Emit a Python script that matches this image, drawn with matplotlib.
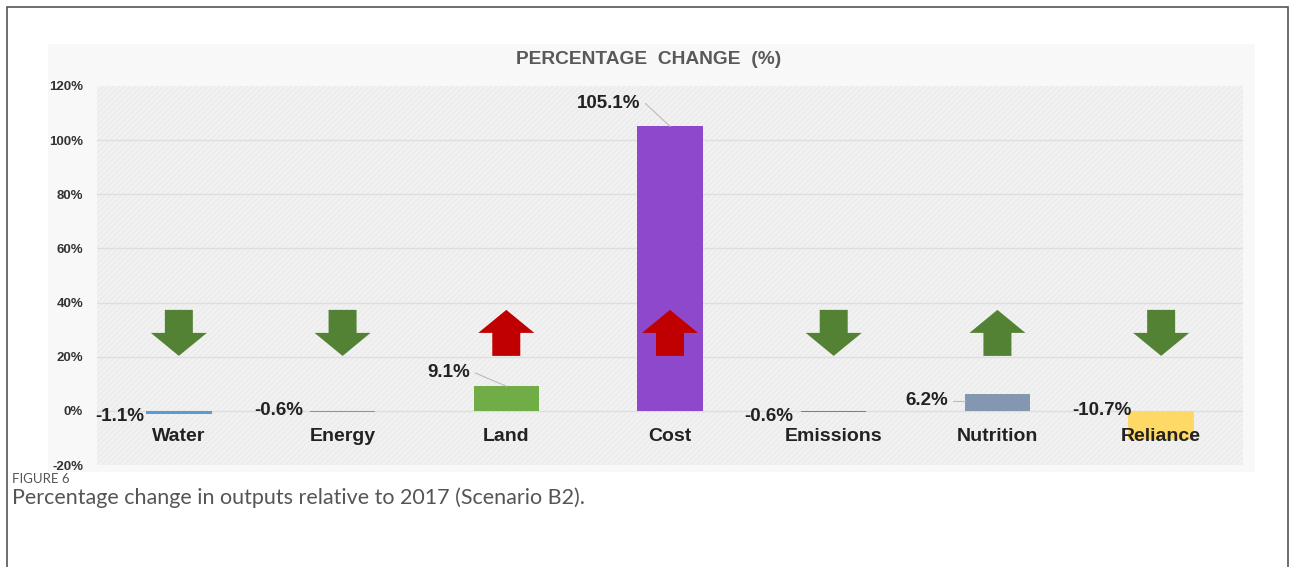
import matplotlib
matplotlib.use("Agg")
import matplotlib.pyplot as plt
from matplotlib.patches import Rectangle, FancyArrow
import numpy as np

categories = ["Water", "Energy", "Land", "Cost", "Emissions", "Nutrition", "Reliance"]
values = [-1.1, -0.6, 9.1, 105.1, -0.6, 6.2, -10.7]
value_labels = ["-1.1%", "-0.6%", "9.1%", "105.1%", "-0.6%", "6.2%", "-10.7%"]
bar_colors = ["#5B9BD5", "#C8825A", "#70AD47", "#8E48CC", "#7F7F7F", "#8497B0", "#FFD966"]
arrow_dirs = ["down", "down", "up", "up", "down", "up", "down"]
arrow_colors = ["#548235", "#548235", "#C00000", "#C00000", "#548235", "#548235", "#548235"]
yticks = [-20, 0, 20, 40, 60, 80, 100, 120]
ytick_labels = ["-20%", "0%", "20%", "40%", "60%", "80%", "100%", "120%"]

W, H = 1293, 567
fig = plt.figure(figsize=(W / 100, H / 100), dpi=100)
fig.patch.set_facecolor("white")
plt.rcParams["hatch.linewidth"] = 0.4
plt.rcParams["hatch.color"] = "#e4e4e4"

# outer border
fig.add_artist(Rectangle((7 / W, -0.05), (1288 - 7) / W, 1 - 7 / H + 0.05,
                         transform=fig.transFigure, fill=False, edgecolor="#555555",
                         lw=1.2, zorder=-2))
# chart area
fig.add_artist(Rectangle((48 / W, 1 - 472 / H), (1255 - 48) / W, (472 - 44) / H,
                         transform=fig.transFigure, facecolor="#f8f8f8",
                         edgecolor="none", zorder=-2))

ax = fig.add_axes([97 / W, 1 - 465 / H, (1243 - 97) / W, (465 - 86) / H])
ax.set_zorder(1)
ax.set_facecolor("#f1f1f1")
ax.add_patch(Rectangle((0, 0), 1, 1, transform=ax.transAxes, facecolor="none",
                       edgecolor="#e4e4e4", hatch="//////", lw=0, zorder=0))
ax.set_xlim(-0.5, len(categories) - 0.5)
ax.set_ylim(-20, 120)
for s in ax.spines.values():
    s.set_visible(False)
ax.set_yticks(yticks)
ax.set_yticklabels(ytick_labels, fontsize=9.5, fontweight="bold", color="#333333",
                   family="Liberation Sans")
ax.tick_params(axis="y", length=0, pad=10)
ax.set_xticks([])
for t in yticks[1:-1]:
    ax.axhline(t, color="#dedede", lw=1, zorder=1)

x = np.arange(len(categories))
ax.bar(x, values, width=0.4, color=bar_colors, zorder=3)

# arrows
for i, (d, c) in enumerate(zip(arrow_dirs, arrow_colors)):
    if d == "down":
        y0, dy = 37.3, -17.0
    else:
        y0, dy = 20.3, 17.0
    ax.add_patch(FancyArrow(i, y0, 0, dy, width=0.171, head_width=0.342,
                            head_length=8.5, length_includes_head=True,
                            color=c, zorder=4, lw=0))

# value labels (offsets in category units / %)
label_pos = [(-0.21, -2.2), (-0.24, 0.3), (-0.22, 14.0),
             (-0.18, 113.5), (-0.25, -2.0), (-0.3, 3.8), (-0.18, 0.0)]
leaders = [False, False, True, True, False, True, False]
for i, (v, lab) in enumerate(zip(values, value_labels)):
    dx, ly = label_pos[i]
    ax.text(i + dx, ly, lab, ha="right", va="center", fontsize=13.5, fontweight="bold",
            color="#222222", family="Liberation Sans", zorder=6)
    if leaders[i]:
        if i == 5:
            ax.plot([i + dx + 0.03, i - 0.2], [ly, ly], color="#bbbbbb", lw=0.8, zorder=5)
        else:
            ax.plot([i + dx + 0.03, i], [ly, v], color="#bbbbbb", lw=0.8, zorder=5)

for i, c in enumerate(categories):
    ax.text(i, -9.6, c, ha="center", va="center", fontsize=14, fontweight="bold",
            color="#222222", family="Liberation Sans", zorder=6)

fig.text(649 / W, 1 - 60 / H, "PERCENTAGE  CHANGE  (%)", ha="center", va="center",
         fontsize=13.8, fontweight="bold", color="#595959", family="Liberation Sans")

fig.text(12 / W, 1 - 479 / H, "FIGURE 6", ha="left", va="center", fontsize=9.5,
         color="#555555", family="Lato")
fig.text(12 / W, 1 - 498 / H, "Percentage change in outputs relative to 2017 (Scenario B2).",
         ha="left", va="center", fontsize=15.5, color="#555555", family="Lato")

fig.savefig("out.png", dpi=100, facecolor="white")
